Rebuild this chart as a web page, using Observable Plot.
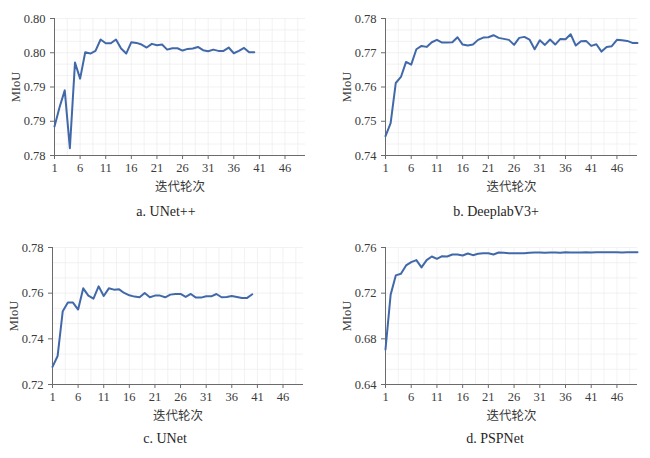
<!DOCTYPE html>
<html>
<head>
<meta charset="utf-8">
<script src="https://cdn.jsdelivr.net/npm/d3@7"></script>
<script src="https://cdn.jsdelivr.net/npm/@observablehq/plot@0.6"></script>
<style>
  html, body { margin: 0; padding: 0; background: #fff; }
  #chart { position: relative; width: 650px; height: 458px; overflow: hidden; }
  .panel { position: absolute; }
  .caption { position: absolute; font-family: "Liberation Serif", "Noto Sans CJK SC", serif; font-size: 14px; color: #262626; transform: translateX(-50%); white-space: nowrap; }
</style>
</head>
<body>
<div id="chart"></div>
<script>
// ---- data ----
const xTicks = [1, 6, 11, 16, 21, 26, 31, 36, 41, 46];
const captions = ["a. UNet++", "b. DeeplabV3+", "c. UNet", "d. PSPNet"];

const unetppMiou = [0.78424, 0.78707, 0.78951, 0.78107, 0.79356, 0.79122, 0.79507, 0.79488, 0.79527, 0.79693,
  0.79639, 0.79639, 0.79693, 0.79561, 0.79488, 0.79654, 0.79644, 0.79620, 0.79576, 0.79630,
  0.79610, 0.79620, 0.79546, 0.79566, 0.79566, 0.79532, 0.79556, 0.79561, 0.79585, 0.79537,
  0.79522, 0.79546, 0.79527, 0.79527, 0.79576, 0.79493, 0.79527, 0.79571, 0.79507, 0.79507];

const deeplabMiou = [0.74566, 0.74946, 0.76117, 0.76293, 0.76732, 0.76654, 0.77102, 0.77200, 0.77171, 0.77307,
  0.77376, 0.77298, 0.77298, 0.77307, 0.77454, 0.77239, 0.77210, 0.77239, 0.77376, 0.77444,
  0.77454, 0.77512, 0.77434, 0.77405, 0.77376, 0.77229, 0.77434, 0.77463, 0.77385, 0.77102,
  0.77366, 0.77229, 0.77385, 0.77239, 0.77405, 0.77395, 0.77541, 0.77210, 0.77337, 0.77346,
  0.77200, 0.77249, 0.77034, 0.77171, 0.77190, 0.77376, 0.77366, 0.77346, 0.77288, 0.77288];

const unetMiou = [0.72770, 0.73249, 0.75210, 0.75588, 0.75588, 0.75283, 0.76212, 0.75893, 0.75762, 0.76300,
  0.75878, 0.76212, 0.76154, 0.76168, 0.76009, 0.75907, 0.75849, 0.75820, 0.76009, 0.75820,
  0.75893, 0.75893, 0.75820, 0.75936, 0.75965, 0.75965, 0.75834, 0.75965, 0.75805, 0.75805,
  0.75863, 0.75863, 0.75965, 0.75820, 0.75834, 0.75878, 0.75834, 0.75791, 0.75791, 0.75951];

const pspnetMiou = [0.67079, 0.71872, 0.73557, 0.73702, 0.74428, 0.74719, 0.74893, 0.74254, 0.74893, 0.75213,
  0.75009, 0.75242, 0.75213, 0.75387, 0.75387, 0.75300, 0.75474, 0.75329, 0.75445, 0.75503,
  0.75503, 0.75387, 0.75561, 0.75532, 0.75503, 0.75503, 0.75489, 0.75503, 0.75532, 0.75561,
  0.75561, 0.75547, 0.75561, 0.75561, 0.75532, 0.75590, 0.75561, 0.75561, 0.75561, 0.75575,
  0.75561, 0.75590, 0.75590, 0.75590, 0.75590, 0.75590, 0.75561, 0.75590, 0.75590, 0.75590];

const yTicksA = [0.78, 0.785, 0.79, 0.795, 0.80];
const yLabelsA = ["0.78", "0.79", "0.79", "0.80", "0.80"];
const yTicksB = [0.74, 0.75, 0.76, 0.77, 0.78];
const yLabelsB = ["0.74", "0.75", "0.76", "0.77", "0.78"];
const yTicksC = [0.72, 0.74, 0.76, 0.78];
const yLabelsC = ["0.72", "0.74", "0.76", "0.78"];
const yTicksD = [0.64, 0.68, 0.72, 0.76];
const yLabelsD = ["0.64", "0.68", "0.72", "0.76"];

const xLabel = "迭代轮次";
const yLabel = "MIoU";

// ---- drawing ----
const lineColor = "#4169a9";
const axisColor = "#6b6b6b";
const font = "'Liberation Serif', 'Noto Sans CJK SC', serif";
const root = document.getElementById("chart");

function panel(values, yTicks, yLabels, caption, pos) {
  const yMin = yTicks[0], yMax = yTicks[yTicks.length - 1];
  const step = yTicks[1] - yTicks[0];
  const yMinor = d3.range(yMin, yMax + step / 10, step / 3);
  const xMinor = d3.range(1, 51, 2.5);
  const fmt = d => {
    const k = yTicks.findIndex(t => Math.abs(t - d) < 1e-9);
    return k >= 0 ? yLabels[k] : "";
  };
  const svg = Plot.plot({
    width: 325,
    height: 195,
    marginLeft: pos.ml,
    marginRight: pos.mr,
    marginTop: pos.mt,
    marginBottom: pos.mb,
    style: {fontFamily: font, fontSize: "12px", color: "#3a3a3a", background: "transparent", overflow: "visible"},
    x: {domain: [1, 50]},
    y: {domain: [yMin, yMax]},
    marks: [
      Plot.gridX(xMinor, {stroke: "#ededed", strokeOpacity: 1, strokeWidth: 0.7}),
      Plot.gridY(yMinor, {stroke: "#ededed", strokeOpacity: 1, strokeWidth: 0.7}),
      Plot.ruleX([1], {stroke: axisColor, strokeWidth: 1}),
      Plot.ruleY([yMin], {stroke: axisColor, strokeWidth: 1}),
      Plot.axisX(xTicks, {tickSize: 4, tickPadding: 4, stroke: axisColor, label: xLabel, labelAnchor: "center", labelArrow: "none", labelOffset: 35, fontSize: 12.5}),
      Plot.axisY(yTicks, {tickSize: 4, tickPadding: 5, stroke: axisColor, tickFormat: fmt, label: yLabel, labelAnchor: "center", labelArrow: "none", labelOffset: 43, fontSize: 12.5}),
      Plot.lineY(values, {x: (d, i) => i + 1, y: d => d, stroke: lineColor, strokeWidth: 2})
    ]
  });
  svg.classList.add("panel");
  svg.style.left = pos.left + "px";
  svg.style.top = pos.top + "px";
  root.appendChild(svg);
  const cap = document.createElement("div");
  cap.className = "caption";
  cap.textContent = caption;
  cap.style.left = pos.capX + "px";
  cap.style.top = pos.capY + "px";
  root.appendChild(cap);
}

panel(unetppMiou, yTicksA, yLabelsA, captions[0], {left: 0, top: 0, ml: 54, mr: 20, mt: 18, mb: 40, capX: 166, capY: 204});
panel(deeplabMiou, yTicksB, yLabelsB, captions[1], {left: 325, top: 0, ml: 60, mr: 13, mt: 18, mb: 40, capX: 496, capY: 204});
panel(unetMiou, yTicksC, yLabelsC, captions[2], {left: 0, top: 230, ml: 52, mr: 22, mt: 17, mb: 41, capX: 165, capY: 431});
panel(pspnetMiou, yTicksD, yLabelsD, captions[3], {left: 325, top: 230, ml: 60, mr: 13, mt: 17, mb: 41, capX: 495, capY: 431});
</script>
</body>
</html>
